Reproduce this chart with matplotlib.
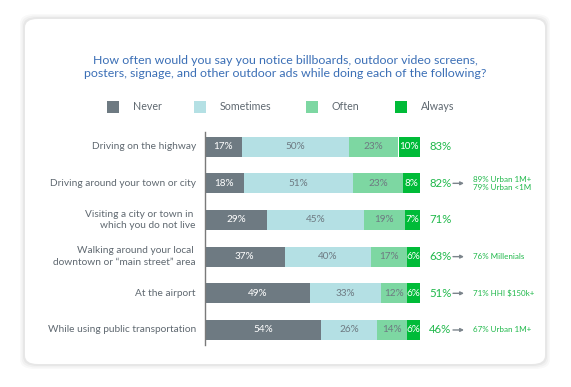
import numpy as np
import matplotlib
matplotlib.use("Agg")
import matplotlib.pyplot as plt
from matplotlib.patches import FancyBboxPatch, Rectangle

plt.rcParams["font.family"] = ["Lato", "DejaVu Sans"]

categories = [
    "Driving on the highway",
    "Driving around your town or city",
    "Visiting a city or town in \nwhich you do not live",
    "Walking around your local \ndowntown or \u201cmain street\u201d area",
    "At the airport",
    "While using public transportation",
]
series_names = ["Never", "Sometimes", "Often", "Always"]
never = [17, 18, 29, 37, 49, 54]
sometimes = [50, 51, 45, 40, 33, 26]
often = [23, 23, 19, 17, 12, 14]
always = [10, 8, 7, 6, 6, 6]
totals = [83, 82, 71, 63, 51, 46]
notes = ["", "89% Urban 1M+\n79% Urban <1M", "", "76% Millenials", "71% HHI $150k+", "67% Urban 1M+"]

colors = ["#6e7a82", "#b4e0e4", "#7dd7a2", "#00bb38"]
text_colors = ["white", "#6e7a82", "#6e7a82", "white"]
green = "#1fb84a"
label_gray = "#5f6870"
title_blue = "#3b6fb6"

W, H = 571, 387
fig = plt.figure(figsize=(W / 100, H / 100), dpi=100)
fig.patch.set_facecolor("white")


def fx(x):
    return x / W


def fy(y):
    return 1 - y / H


# card with a soft shadow
for i, a in enumerate([0.025, 0.03, 0.04]):
    g = 5 - i * 1.5
    fig.patches.append(FancyBboxPatch(
        (fx(25 - g), fy(364 + g)), (520 + 2 * g) / W, (345 + 2 * g) / H,
        boxstyle="round,pad=0,rounding_size=0.025", transform=fig.transFigure,
        facecolor="black", edgecolor="none", alpha=a, zorder=0))
fig.patches.append(FancyBboxPatch(
    (fx(25), fy(364)), 520 / W, 345 / H,
    boxstyle="round,pad=0,rounding_size=0.022", transform=fig.transFigure,
    facecolor="white", edgecolor="none", zorder=0.5))

fig.text(fx(285), fy(67), "How often would you say you notice billboards, outdoor video screens,\n"
         "posters, signage, and other outdoor ads while doing each of the following?",
         ha="center", va="center", color=title_blue, fontsize=8.9, linespacing=1.3)

# legend
legend_x = [113, 200, 312, 401]
for name, c, lx in zip(series_names, colors, legend_x):
    fig.patches.append(Rectangle((fx(lx - 6), fy(113)), 12 / W, 12 / H,
                                 transform=fig.transFigure, facecolor=c, edgecolor="none",
                                 zorder=1))
    fig.text(fx(lx + 20), fy(107), name, ha="left", va="center", color=label_gray, fontsize=7.7)

ax = fig.add_axes([fx(205), fy(345), 215 / W, 213 / H])
ax.set_zorder(2)
ax.set_xlim(0, 100)
ax.set_ylim(5.41, -0.4)
ax.axis("off")
ax.plot([0, 0], [5.41, -0.4], color="#7a7a7a", lw=1, clip_on=False, zorder=3)

y = np.arange(len(categories))
left = np.zeros(len(categories))
for vals, c, tc in zip([never, sometimes, often, always], colors, text_colors):
    vals = np.array(vals)
    ax.barh(y, vals, left=left, height=0.546, color=c, edgecolor="none")
    for yi, l, v in zip(y, left, vals):
        ax.text(l + v / 2, yi, f"{v}%", ha="center", va="center", color=tc, fontsize=7.2)
    left = left + vals

for yi, cat, t, note in zip(y, categories, totals, notes):
    ax.annotate(cat, (0, yi), xytext=(-6.5, 0), textcoords="offset points",
                ha="right", va="center", color=label_gray, fontsize=7.3, linespacing=1.35,
                annotation_clip=False)
    ax.annotate(f"{t}%", (100, yi), xytext=(6.5, 0), textcoords="offset points",
                ha="left", va="center", color=green, fontsize=8.2,
                annotation_clip=False)
    if note:
        ax.annotate("", xy=(100 + 44 / 2.15, yi), xytext=(100 + 33 / 2.15, yi),
                    arrowprops=dict(arrowstyle="-|>", color="#7c858c", lw=1,
                                    mutation_scale=5, shrinkA=0, shrinkB=0),
                    annotation_clip=False)
        ax.annotate(note, (100, yi), xytext=(38, 0), textcoords="offset points",
                    ha="left", va="center", color=green, fontsize=5.8, linespacing=1.25,
                    annotation_clip=False)

fig.savefig("out.png", dpi=100, facecolor="white")
